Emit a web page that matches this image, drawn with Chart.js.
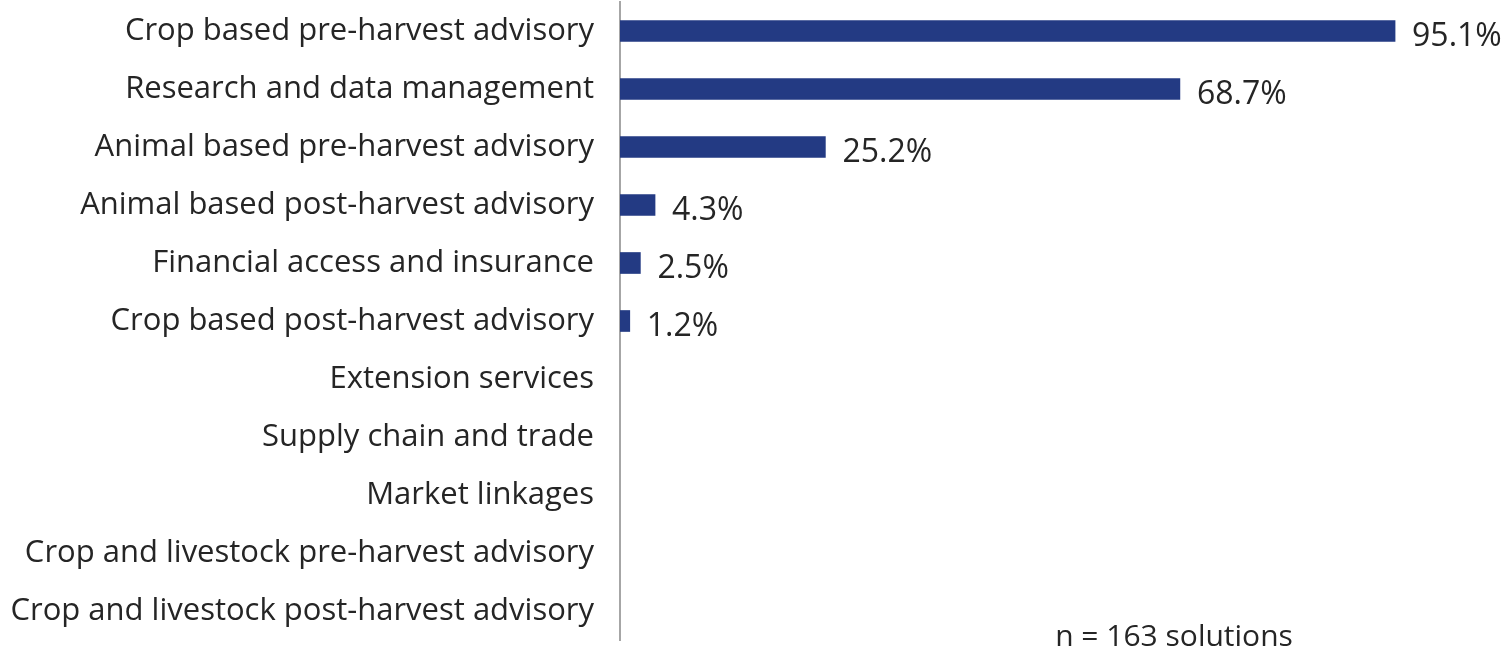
<!DOCTYPE html>
<html>
<head>
<meta charset="utf-8">
<script src="https://cdn.jsdelivr.net/npm/chart.js@4"></script>
<style>
  html, body { margin: 0; padding: 0; background: #fff; }
  #wrap { width: 1509px; height: 659px; position: relative; }
</style>
</head>
<body>
<div id="wrap"><canvas id="myChart"></canvas></div>
<script>
const categories = [
  'Crop based pre-harvest advisory',
  'Research and data management',
  'Animal based pre-harvest advisory',
  'Animal based post-harvest advisory',
  'Financial access and insurance',
  'Crop based post-harvest advisory',
  'Extension services',
  'Supply chain and trade',
  'Market linkages',
  'Crop and livestock pre-harvest advisory',
  'Crop and livestock post-harvest advisory'
];
const shares = [95.1, 68.7, 25.2, 4.3, 2.5, 1.2, null, null, null, null, null];
const note = 'n = 163 solutions';

const fontFamily = '"Open Sans", Lato, sans-serif';
const textColor = '#252525';

// percent labels to the right of each bar
const valueLabels = {
  id: 'valueLabels',
  afterDatasetsDraw(chart) {
    const ctx = chart.ctx;
    const meta = chart.getDatasetMeta(0);
    ctx.save();
    ctx.font = '32px ' + fontFamily;
    ctx.fillStyle = textColor;
    ctx.textAlign = 'left';
    ctx.textBaseline = 'middle';
    meta.data.forEach((bar, i) => {
      const v = shares[i];
      if (v === null) return;
      ctx.fillText(v.toFixed(1) + '%', bar.x + 17, bar.y + 6);
    });
    // sample size note
    ctx.font = '30px ' + fontFamily;
    ctx.textAlign = 'center';
    ctx.fillText(note, 1174, 637);
    ctx.restore();
  }
};

const ctx = document.getElementById('myChart').getContext('2d');
const myChart = new Chart(ctx, {
  type: 'bar',
  data: {
    labels: categories,
    datasets: [{
      data: shares,
      backgroundColor: '#233a83',
      borderWidth: 0,
      barThickness: 21
    }]
  },
  options: {
    indexAxis: 'y',
    responsive: true,
    maintainAspectRatio: false,
    animation: false,
    layout: { padding: { top: 2, bottom: 19, right: 74, left: 0 } },
    plugins: {
      legend: { display: false },
      tooltip: { enabled: false }
    },
    scales: {
      x: {
        display: false,
        min: 0,
        max: 100
      },
      y: {
        afterFit(scale) {
          scale.width = 620;
          scale.paddingTop = 0;
          scale.paddingBottom = 0;
        },
        grid: { display: false, drawTicks: false },
        border: { display: true, color: '#a6a6a6', width: 2 },
        ticks: {
          padding: 26,
          color: textColor,
          font: { family: fontFamily, size: 31 }
        }
      }
    }
  },
  plugins: [valueLabels]
});
</script>
</body>
</html>
